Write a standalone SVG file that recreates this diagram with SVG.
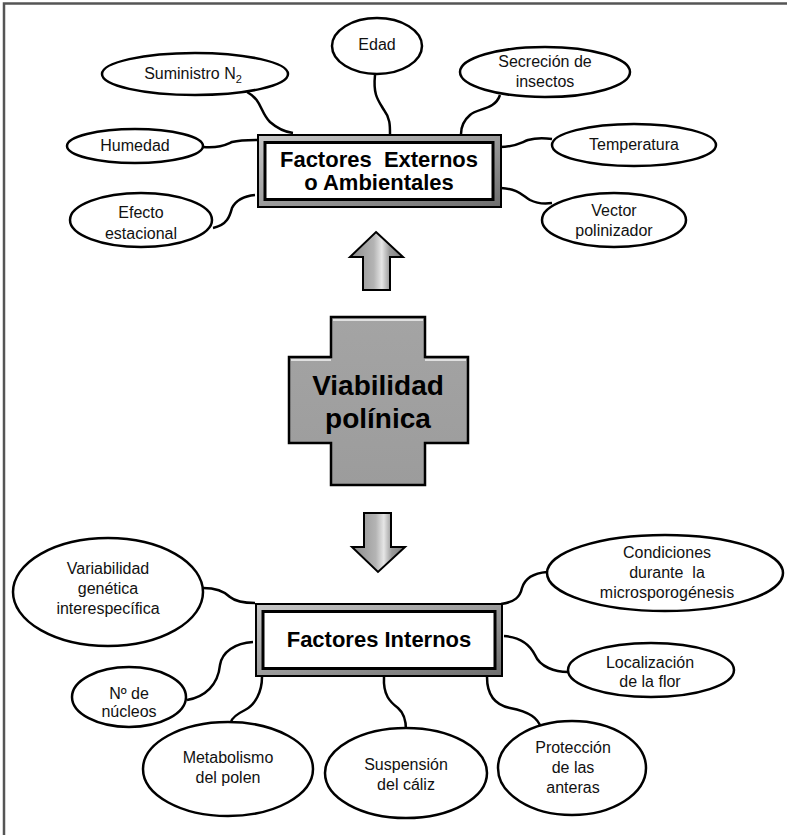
<svg xmlns="http://www.w3.org/2000/svg" width="787" height="835" viewBox="0 0 787 835">
<defs>
<linearGradient id="band" x1="0" y1="0" x2="1" y2="1">
<stop offset="0" stop-color="#c8c8c8"/>
<stop offset="1" stop-color="#6e6e6e"/>
</linearGradient>
<linearGradient id="arrowG" x1="0" y1="0" x2="1" y2="0">
<stop offset="0" stop-color="#8a8a8a"/>
<stop offset="0.45" stop-color="#b4b4b4"/>
<stop offset="0.6" stop-color="#e6e6e6"/>
<stop offset="0.75" stop-color="#9a9a9a"/>
<stop offset="1" stop-color="#7a7a7a"/>
</linearGradient>
<linearGradient id="crossG" x1="0" y1="0" x2="0" y2="1">
<stop offset="0" stop-color="#a4a4a4"/>
<stop offset="1" stop-color="#9c9c9c"/>
</linearGradient>
</defs>
<style>
.el{fill:#fff;stroke:#000;stroke-width:2.5}
.t{font-family:"Liberation Sans",Arial,sans-serif;font-size:16px;fill:#111;text-anchor:middle}
.b{font-family:"Liberation Sans",Arial,sans-serif;font-weight:bold;font-size:22px;fill:#000;text-anchor:middle}
.c{fill:none;stroke:#000;stroke-width:2.5}
.frame{fill:none;stroke:#555;stroke-width:2.5}
</style>
<rect width="787" height="835" fill="#fff"/>
<path class="frame" d="M4,835 V3.5 H787"/>

<g id="connectors">
<path class="c" d="M247,92 C262,100 260,112 270,122 C278,129 285,132 293,133"/>
<path class="c" d="M375,75 C373,95 378,100 384,110 C390,118 390,125 390,134"/>
<path class="c" d="M500,95 C495,110 478,108 470,115 C463,121 461,127 461,134"/>
<path class="c" d="M203,147 C220,148 225,145 232,142 C240,140 248,140 257,140"/>
<path class="c" d="M500,147 C515,147 520,143 528,140 C535,138 545,138 552,139"/>
<path class="c" d="M213,228 C228,225 230,215 232,208 C236,200 245,196 255,195"/>
<path class="c" d="M501,188 C518,189 522,195 530,200 C538,204 545,204 552,203"/>
<path class="c" d="M203,588 C218,588 225,592 230,597 C236,602 245,603 255,603"/>
<path class="c" d="M501,604 C515,602 520,597 522,588 C525,578 535,573 547,572"/>
<path class="c" d="M504,636 C520,637 530,645 535,655 C540,667 555,672 568,672"/>
<path class="c" d="M253,642 C235,643 222,652 220,665 C218,685 205,697 187,700"/>
<path class="c" d="M262,677 C262,692 255,705 245,710 C235,715 232,718 231,722"/>
<path class="c" d="M384,677 C383,695 390,702 398,708 C405,714 406,722 406,730"/>
<path class="c" d="M487,677 C487,695 495,705 510,708 C530,712 538,718 541,728"/>
</g>

<g id="externos">
<rect x="258" y="135" width="243" height="72" fill="url(#band)" stroke="#000" stroke-width="2"/>
<rect x="265" y="142.5" width="228" height="57" fill="#fff" stroke="#000" stroke-width="3"/>
<text class="b" x="379" y="167" xml:space="preserve">Factores  Externos</text>
<text class="b" x="379" y="190">o Ambientales</text>
</g>

<g id="internos">
<rect x="256" y="604" width="246" height="72" fill="url(#band)" stroke="#000" stroke-width="2"/>
<rect x="263" y="611.5" width="232" height="57" fill="#fff" stroke="#000" stroke-width="3"/>
<text class="b" x="379" y="647">Factores Internos</text>
</g>

<g id="viabilidad">
<path d="M331,317 H425 V357 H468 V443 H425 V485 H331 V443 H289 V357 H331 Z" fill="url(#crossG)" stroke="#000" stroke-width="2.5"/>
<path d="M333,320 H423 M291,360 H331 M425,360 H466" stroke="#e0e0e0" stroke-width="2" fill="none"/>
<text class="b" x="378" y="395" style="font-size:28px">Viabilidad</text>
<text class="b" x="378" y="428" style="font-size:28px">polínica</text>
</g>

<g id="arrow-up">
<path d="M376,232 L403,257 H390 V290 H363 V257 H350 Z" fill="url(#arrowG)" stroke="#000" stroke-width="2"/>
</g>
<g id="arrow-down">
<path d="M364,513 H391 V547 H405 L378,572 L352,547 H364 Z" fill="url(#arrowG)" stroke="#000" stroke-width="2"/>
</g>

<g id="suministro">
<ellipse class="el" cx="195" cy="74" rx="93" ry="21"/>
<text class="t" x="193" y="79">Suministro N<tspan font-size="11" dy="4">2</tspan></text>
</g>
<g id="edad">
<ellipse class="el" cx="377" cy="46" rx="45" ry="28"/>
<text class="t" x="377" y="50">Edad</text>
</g>
<g id="secrecion">
<ellipse class="el" cx="545" cy="72" rx="85" ry="25"/>
<text class="t" x="545" y="67">Secreción de</text>
<text class="t" x="545" y="87">insectos</text>
</g>
<g id="humedad">
<ellipse class="el" cx="135" cy="146" rx="68" ry="17"/>
<text class="t" x="135" y="151">Humedad</text>
</g>
<g id="temperatura">
<ellipse class="el" cx="634" cy="145" rx="82" ry="21"/>
<text class="t" x="634" y="150">Temperatura</text>
</g>
<g id="efecto">
<ellipse class="el" cx="141" cy="220" rx="71" ry="27"/>
<text class="t" x="141" y="218">Efecto</text>
<text class="t" x="141" y="239">estacional</text>
</g>
<g id="vector">
<ellipse class="el" cx="614" cy="220" rx="72" ry="27"/>
<text class="t" x="614" y="216">Vector</text>
<text class="t" x="614" y="236">polinizador</text>
</g>

<g id="variabilidad">
<ellipse class="el" cx="108" cy="592" rx="95" ry="54"/>
<text class="t" x="108" y="574">Variabilidad</text>
<text class="t" x="108" y="594">genética</text>
<text class="t" x="108" y="614">interespecífica</text>
</g>
<g id="condiciones">
<ellipse class="el" cx="665" cy="573" rx="118" ry="38"/>
<text class="t" x="667" y="558">Condiciones</text>
<text class="t" x="667" y="578" xml:space="preserve">durante  la</text>
<text class="t" x="667" y="598">microsporogénesis</text>
</g>
<g id="localizacion">
<ellipse class="el" cx="651" cy="670" rx="83" ry="27"/>
<text class="t" x="650" y="668">Localización</text>
<text class="t" x="650" y="687">de la flor</text>
</g>
<g id="nucleos">
<ellipse class="el" cx="129" cy="697" rx="57" ry="30"/>
<text class="t" x="129" y="699">Nº de</text>
<text class="t" x="129" y="717">núcleos</text>
</g>
<g id="metabolismo">
<ellipse class="el" cx="228" cy="769" rx="85" ry="47"/>
<text class="t" x="228" y="763">Metabolismo</text>
<text class="t" x="228" y="783">del polen</text>
</g>
<g id="suspension">
<ellipse class="el" cx="406" cy="773" rx="81" ry="45"/>
<text class="t" x="406" y="770">Suspensión</text>
<text class="t" x="406" y="790">del cáliz</text>
</g>
<g id="proteccion">
<ellipse class="el" cx="572" cy="768" rx="74" ry="47"/>
<text class="t" x="573" y="753">Protección</text>
<text class="t" x="573" y="773">de las</text>
<text class="t" x="573" y="793">anteras</text>
</g>
</svg>
